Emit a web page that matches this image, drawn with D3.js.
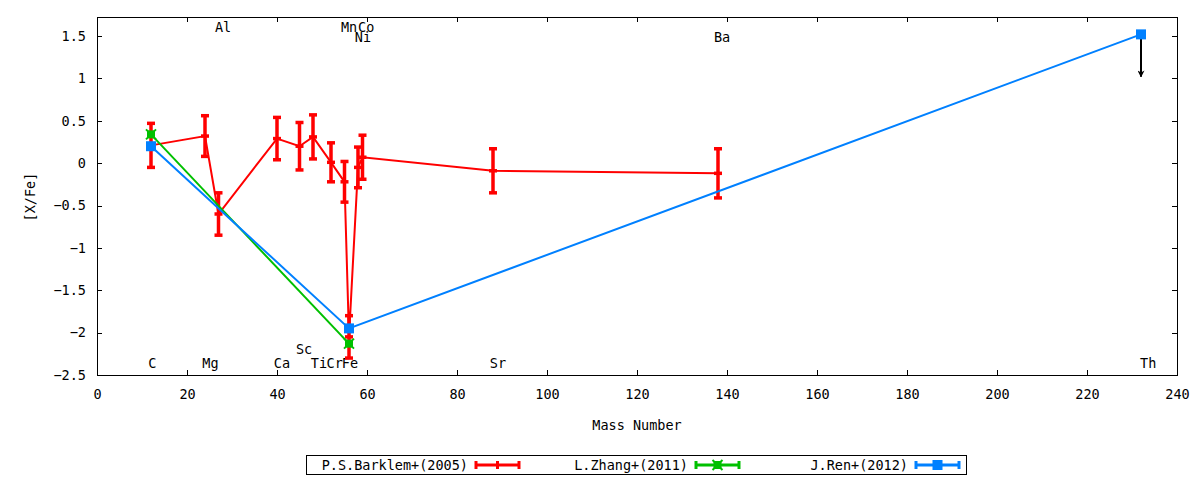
<!DOCTYPE html>
<html lang="en">
<head>
    <meta charset="UTF-8">
    <title>[X/Fe] vs Mass Number</title>
    <style>
        body {
            margin: 0;
            padding: 0;
            background-color: #fff;
        }

        svg text {
            font-family: "DejaVu Sans Mono", monospace;
            font-size: 13.5px;
            fill: #000;
        }

        .axis path,
        .axis line {
            fill: none;
            stroke: #000;
            shape-rendering: crispEdges;
        }
    </style>
</head>
<body>

<svg width="1200" height="480" id="graph"></svg>

<script src="https://d3js.org/d3.v7.min.js"></script>
<script>
    // Barklem et al. (2005), with error bars
    const barklemElem = ["C", "Mg", "Al", "Ca", "Sc", "Ti", "Cr", "Mn", "Fe", "Ni", "Co", "Sr", "Ba"];
    const barklemMass = [12, 24, 27, 40, 45, 48, 52, 55, 56, 58, 59, 88, 138];
    const barklemXFe = [0.21, 0.32, -0.6, 0.29, 0.2, 0.31, 0.01, -0.22, -2.05, -0.05, 0.07, -0.09, -0.12];
    const barklemErr = [0.26, 0.24, 0.25, 0.25, 0.28, 0.26, 0.23, 0.24, 0.25, 0.24, 0.26, 0.26, 0.29];

    // Zhang et al. (2011)
    const zhangMass = [12, 56];
    const zhangXFe = [0.34, -2.13];

    // Ren et al. (2012), Th is an upper limit
    const renMass = [12, 56, 232];
    const renXFe = [0.2, -1.95, 1.52];
    const renUpper = [false, false, true];

    // element labels (left edge in mass units, y in [X/Fe])
    const labelText = ["C", "Mg", "Al", "Ca", "Sc", "Ti", "Cr", "Fe", "Mn", "Co", "Ni", "Sr", "Ba", "Th"];
    const labelX = [11.4, 23.4, 26.2, 39.3, 44.2, 47.5, 51, 54.4, 54.2, 58.0, 57.3, 87.3, 137.1, 231.8];
    const labelY = [-2.36, -2.36, 1.607, -2.36, -2.195, -2.36, -2.36, -2.36, 1.607, 1.607, 1.485, -2.36, 1.49, -2.36];

    const xTicks = d3.range(0, 241, 20);
    const yTicks = [-2.5, -2, -1.5, -1, -0.5, 0, 0.5, 1, 1.5];

    const legendNames = ["P.S.Barklem+(2005)", "L.Zhang+(2011)", "J.Ren+(2012)"];
    const colors = ["#ff0000", "#00c000", "#0080ff"];

    const svg = d3.select("#graph");
    const margin = { top: 17, right: 23, bottom: 105, left: 97 };
    const width = 1200 - margin.left - margin.right;
    const height = 480 - margin.top - margin.bottom;

    const x = d3.scaleLinear().domain([0, 240]).range([0, width]);
    const y = d3.scaleLinear().domain([-2.5, 1.725]).range([height, 0]);

    const g = svg.append("g")
        .attr("transform", `translate(${margin.left},${margin.top})`);

    // axes, ticks inside and mirrored
    const fmt = d => d3.format("")(d);
    g.append("g").attr("class", "axis")
        .attr("transform", `translate(0,${height})`)
        .call(d3.axisBottom(x).tickValues(xTicks).tickSizeInner(-5).tickSizeOuter(0).tickPadding(14).tickFormat(fmt));
    g.append("g").attr("class", "axis")
        .call(d3.axisTop(x).tickValues(xTicks).tickSizeInner(-5).tickSizeOuter(0).tickFormat(""));
    g.append("g").attr("class", "axis")
        .call(d3.axisLeft(y).tickValues(yTicks).tickSizeInner(-5).tickSizeOuter(0).tickPadding(11).tickFormat(fmt));
    g.append("g").attr("class", "axis")
        .attr("transform", `translate(${width},0)`)
        .call(d3.axisRight(y).tickValues(yTicks).tickSizeInner(-5).tickSizeOuter(0).tickFormat(""));
    g.selectAll(".axis text").style("font-family", "DejaVu Sans Mono").style("font-size", "13.5px");

    g.append("rect")
        .attr("width", width).attr("height", height)
        .attr("fill", "none").attr("stroke", "#000")
        .attr("shape-rendering", "crispEdges");

    // axis titles
    svg.append("text")
        .attr("x", margin.left + x(120))
        .attr("y", 430)
        .attr("text-anchor", "middle")
        .text("Mass Number");
    svg.append("text")
        .attr("transform", `translate(35,${margin.top + y(-0.4)}) rotate(-90)`)
        .attr("text-anchor", "middle")
        .text("[X/Fe]");

    // element labels
    g.selectAll(".elem")
        .data(labelText)
        .enter().append("text")
        .attr("class", "elem")
        .attr("x", (d, i) => x(labelX[i]))
        .attr("y", (d, i) => y(labelY[i]))
        .attr("dy", "0.36em")
        .text(d => d);

    // Barklem: connecting line, error bars, plus markers
    const red = barklemMass.map((m, i) => ({ m: m, v: barklemXFe[i], e: barklemErr[i] }));
    const line = d3.line().x(d => x(d.m)).y(d => y(d.v));

    g.append("path")
        .datum(red)
        .attr("fill", "none")
        .attr("stroke", colors[0])
        .attr("stroke-width", 2)
        .attr("d", line);

    const eb = g.selectAll(".eb").data(red).enter().append("g").attr("class", "eb")
        .attr("stroke", colors[0]).attr("stroke-width", 3.5);
    eb.append("line")
        .attr("x1", d => x(d.m)).attr("x2", d => x(d.m))
        .attr("y1", d => y(d.v + d.e)).attr("y2", d => y(d.v - d.e));
    eb.append("line")
        .attr("x1", d => x(d.m) - 4).attr("x2", d => x(d.m) + 4)
        .attr("y1", d => y(d.v + d.e)).attr("y2", d => y(d.v + d.e));
    eb.append("line")
        .attr("x1", d => x(d.m) - 4).attr("x2", d => x(d.m) + 4)
        .attr("y1", d => y(d.v - d.e)).attr("y2", d => y(d.v - d.e));
    eb.append("line")
        .attr("x1", d => x(d.m) - 4).attr("x2", d => x(d.m) + 4)
        .attr("y1", d => y(d.v)).attr("y2", d => y(d.v));

    // Zhang: line and boxed-cross markers
    const green = zhangMass.map((m, i) => ({ m: m, v: zhangXFe[i] }));
    g.append("path")
        .datum(green)
        .attr("fill", "none")
        .attr("stroke", colors[1])
        .attr("stroke-width", 2)
        .attr("d", line);

    function greenMark(sel, cx, cy) {
        sel.append("rect")
            .attr("x", cx - 4).attr("y", cy - 4)
            .attr("width", 8).attr("height", 8)
            .attr("fill", colors[1]);
        sel.append("path")
            .attr("d", `M${cx - 5},${cy - 5}L${cx + 5},${cy + 5}M${cx - 5},${cy + 5}L${cx + 5},${cy - 5}`)
            .attr("stroke", colors[1]).attr("stroke-width", 2);
    }
    green.forEach(d => greenMark(g, x(d.m), y(d.v)));

    // Ren: line, square markers, upper limit arrow
    const blue = renMass.map((m, i) => ({ m: m, v: renXFe[i], up: renUpper[i] }));
    g.append("path")
        .datum(blue)
        .attr("fill", "none")
        .attr("stroke", colors[2])
        .attr("stroke-width", 2)
        .attr("d", line);

    svg.append("defs").append("marker")
        .attr("id", "head")
        .attr("viewBox", "0 0 10 10")
        .attr("refX", 9).attr("refY", 5)
        .attr("markerWidth", 7).attr("markerHeight", 7)
        .attr("markerUnits", "userSpaceOnUse")
        .attr("orient", "auto")
        .append("path")
        .attr("d", "M0,0L10,5L0,10L3,5Z")
        .attr("fill", "#000");

    g.selectAll(".lim")
        .data(blue.filter(d => d.up))
        .enter().append("line")
        .attr("class", "lim")
        .attr("x1", d => x(d.m)).attr("x2", d => x(d.m))
        .attr("y1", d => y(d.v)).attr("y2", d => y(d.v - 0.5))
        .attr("stroke", "#000")
        .attr("stroke-width", 2)
        .attr("marker-end", "url(#head)");

    g.selectAll(".sq")
        .data(blue)
        .enter().append("rect")
        .attr("class", "sq")
        .attr("x", d => x(d.m) - 5).attr("y", d => y(d.v) - 5)
        .attr("width", 10).attr("height", 10)
        .attr("fill", colors[2]);

    // legend
    const leg = svg.append("g");
    leg.append("rect")
        .attr("x", 306.5).attr("y", 455.5)
        .attr("width", 660).attr("height", 19)
        .attr("fill", "none").attr("stroke", "#000");

    const legX = [476, 696, 916];
    const legY = 465;
    legendNames.forEach((name, i) => {
        const x0 = legX[i], x1 = legX[i] + 43, c = colors[i];
        leg.append("text")
            .attr("x", x0 - 8).attr("y", legY)
            .attr("dy", "0.36em")
            .attr("text-anchor", "end")
            .text(name);
        const s = leg.append("g").attr("stroke", c).attr("stroke-width", 3);
        s.append("line").attr("x1", x0).attr("x2", x1).attr("y1", legY).attr("y2", legY);
        s.append("line").attr("x1", x0).attr("x2", x0).attr("y1", legY - 4).attr("y2", legY + 4);
        s.append("line").attr("x1", x1).attr("x2", x1).attr("y1", legY - 4).attr("y2", legY + 4);
        const cx = (x0 + x1) / 2;
        if (i === 0) {
            s.append("line").attr("x1", cx).attr("x2", cx).attr("y1", legY - 4).attr("y2", legY + 4);
        } else if (i === 1) {
            greenMark(leg, cx, legY);
        } else {
            leg.append("rect")
                .attr("x", cx - 5).attr("y", legY - 5)
                .attr("width", 10).attr("height", 10)
                .attr("fill", c);
        }
    });
</script>
</body>
</html>
